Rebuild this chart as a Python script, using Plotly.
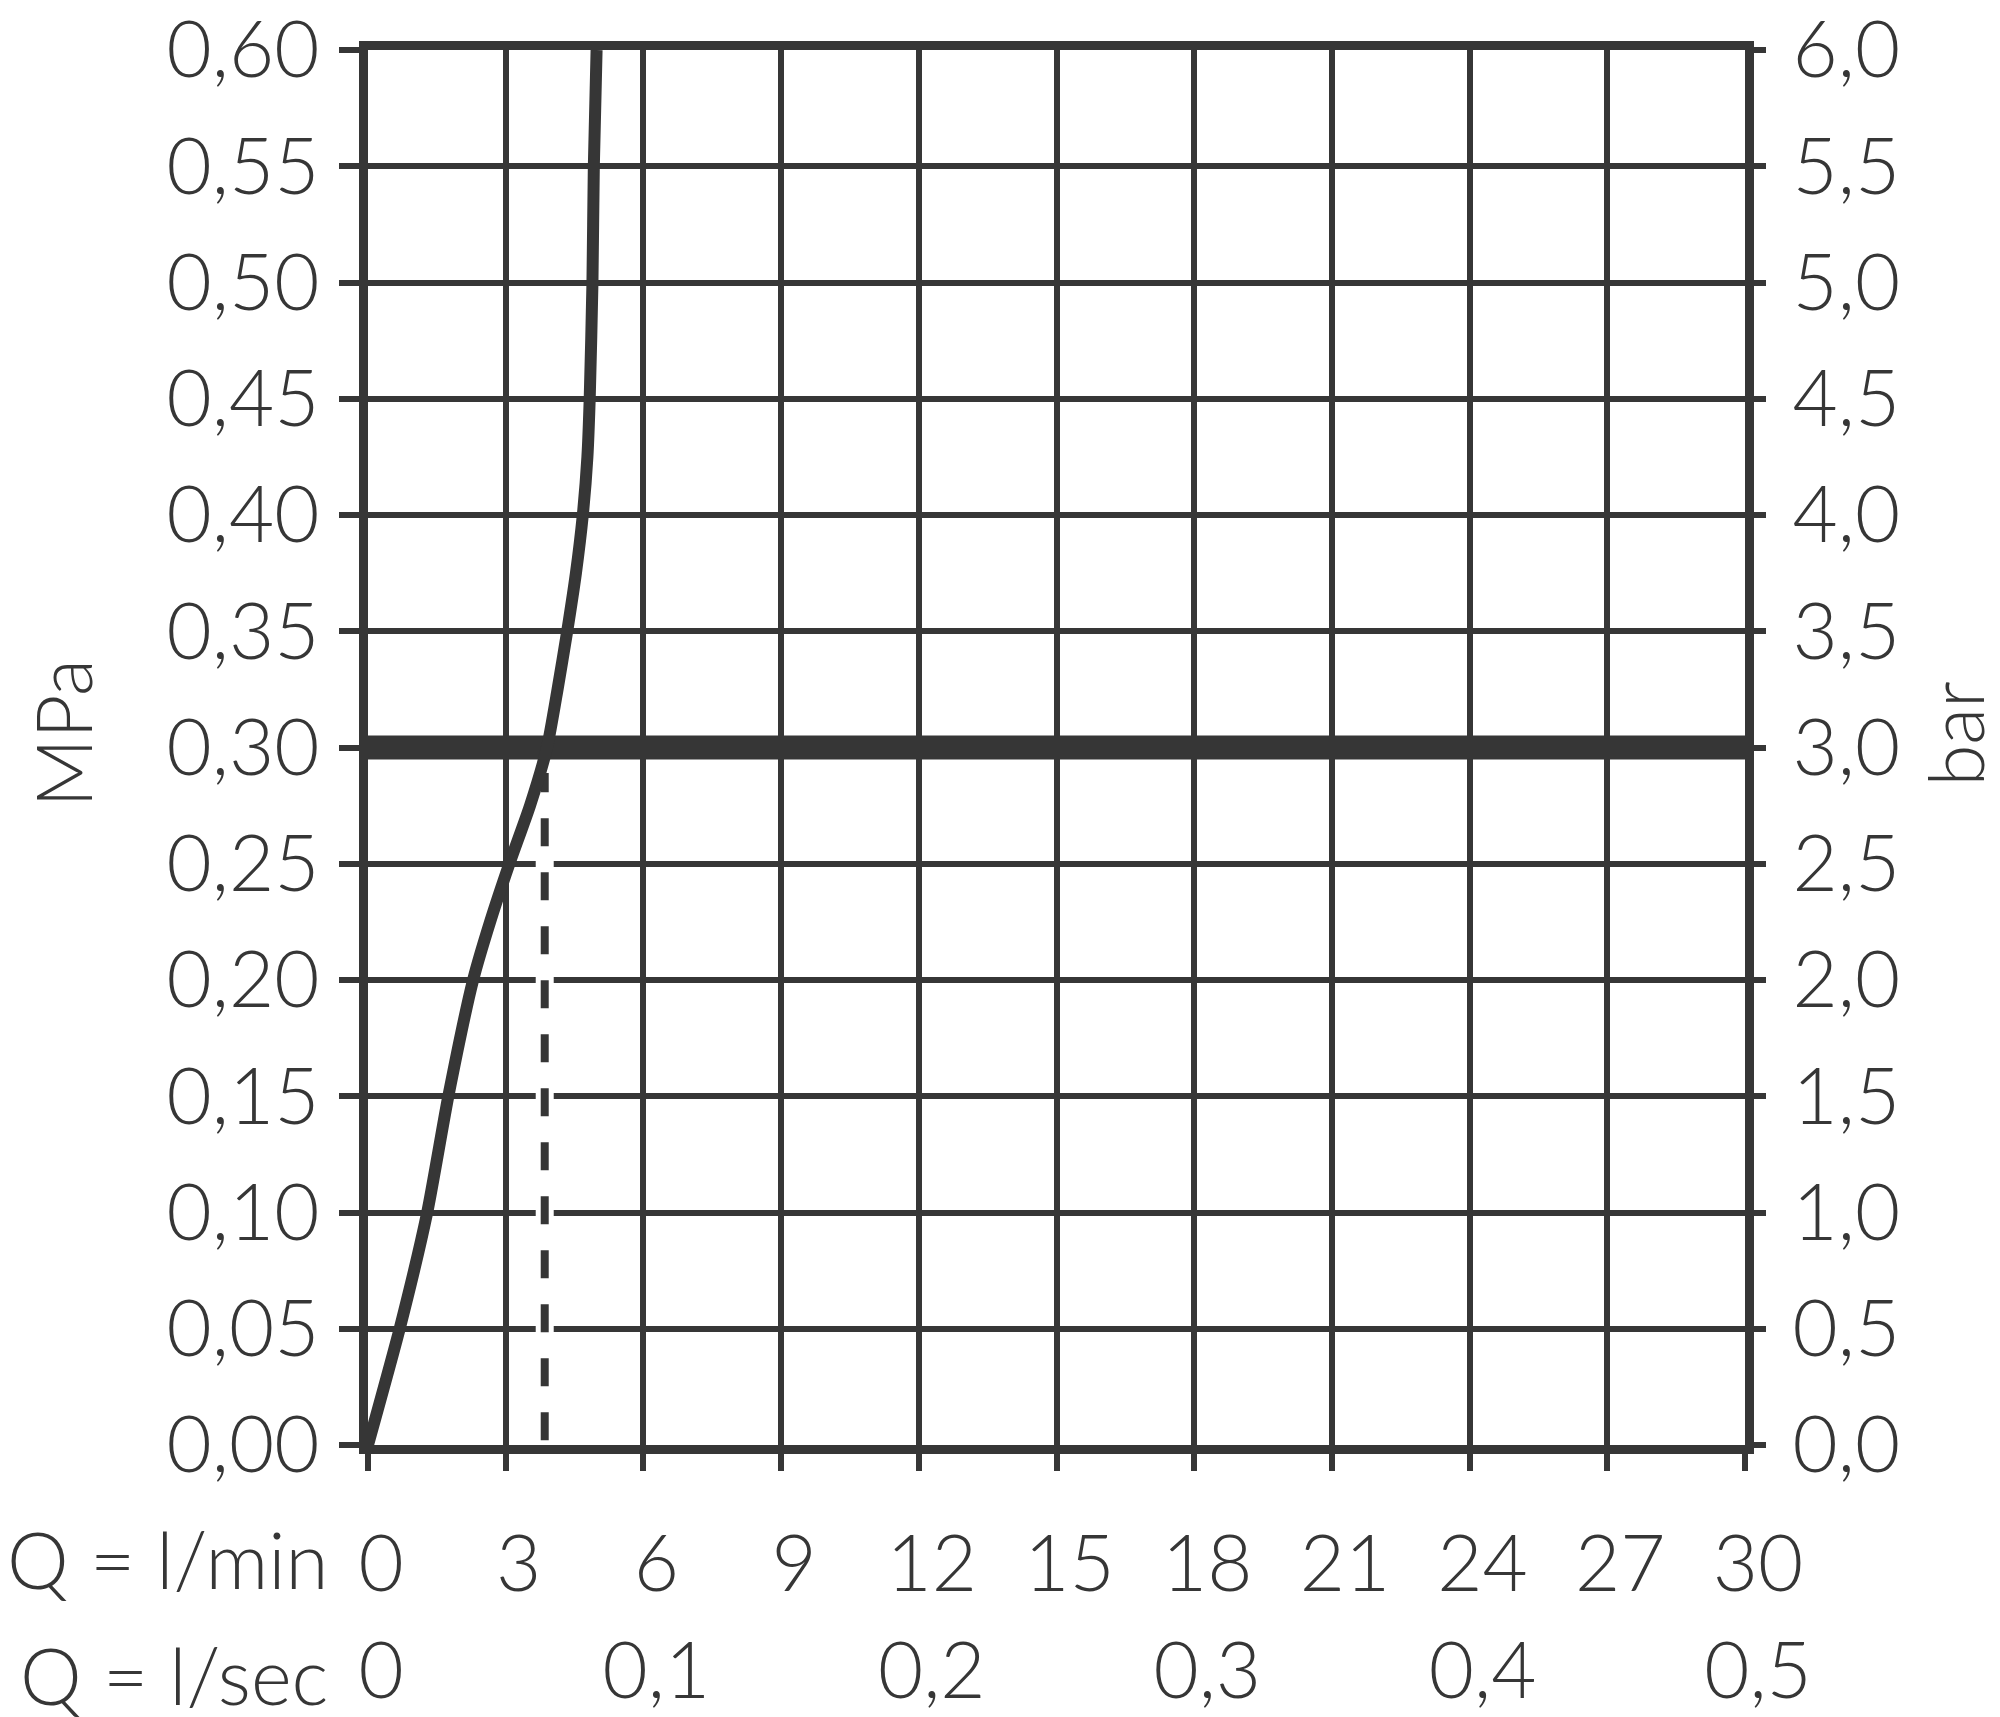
import plotly.graph_objects as go

# ---- data ----
flow_lmin = [0, 0.69, 1.29, 1.75, 2.29, 2.66, 3.08, 3.53, 3.90, 4.13, 4.34, 4.53, 4.68, 4.78, 4.83, 4.89, 4.92, 4.98]
pressure_mpa = [0, 0.05, 0.10, 0.15, 0.20, 0.225, 0.25, 0.275, 0.30, 0.325, 0.35, 0.375, 0.40, 0.425, 0.45, 0.50, 0.55, 0.60]

rated_pressure_mpa = 0.30
rated_flow_lmin = 3.85

lmin_ticks = [0, 3, 6, 9, 12, 15, 18, 21, 24, 27, 30]
lmin_labels = ["0", "3", "6", "9", "12", "15", "18", "21", "24", "27", "30"]
lsec_ticks = [0, 0.1, 0.2, 0.3, 0.4, 0.5]
lsec_labels = ["0", "0,1", "0,2", "0,3", "0,4", "0,5"]
mpa_ticks = [0, 0.05, 0.10, 0.15, 0.20, 0.25, 0.30, 0.35, 0.40, 0.45, 0.50, 0.55, 0.60]
mpa_labels = ["0,00", "0,05", "0,10", "0,15", "0,20", "0,25", "0,30", "0,35", "0,40", "0,45", "0,50", "0,55", "0,60"]
bar_ticks = [0, 0.5, 1.0, 1.5, 2.0, 2.5, 3.0, 3.5, 4.0, 4.5, 5.0, 5.5, 6.0]
bar_labels = ["0,0", "0,5", "1,0", "1,5", "2,0", "2,5", "3,0", "3,5", "4,0", "4,5", "5,0", "5,5", "6,0"]

C = "#363636"
FONT = dict(family="Lato, 'Open Sans', sans-serif", size=78, color=C, weight=300)

fig = go.Figure()

# rated pressure line
fig.add_trace(go.Scatter(x=[lmin_ticks[0], lmin_ticks[-1]], y=[rated_pressure_mpa, rated_pressure_mpa],
                         mode="lines", line=dict(color=C, width=24), hoverinfo="skip", showlegend=False))
# white halo for dashed line
fig.add_trace(go.Scatter(x=[rated_flow_lmin, rated_flow_lmin], y=[0, rated_pressure_mpa - 0.009],
                         mode="lines", line=dict(color="white", width=18), hoverinfo="skip", showlegend=False))
fig.add_trace(go.Scatter(x=[rated_flow_lmin, rated_flow_lmin], y=[0.002, rated_pressure_mpa - 0.011],
                         mode="lines", line=dict(color=C, width=8, dash="28px,26px"), hoverinfo="skip", showlegend=False))
# flow curve
fig.add_trace(go.Scatter(x=flow_lmin, y=pressure_mpa, mode="lines",
                         line=dict(color=C, width=12, shape="spline", smoothing=0.6),
                         hoverinfo="skip", showlegend=False, cliponaxis=False))
# helper traces so secondary axes render
fig.add_trace(go.Scatter(x=[lsec_ticks[0]], y=[0], xaxis="x2", yaxis="y", mode="markers",
                         marker=dict(opacity=0), hoverinfo="skip", showlegend=False))
fig.add_trace(go.Scatter(x=[0], y=[bar_ticks[0]], xaxis="x", yaxis="y2", mode="markers",
                         marker=dict(opacity=0), hoverinfo="skip", showlegend=False))

common_line = dict(showline=True, linewidth=9, linecolor=C, mirror=True, zeroline=False)

fig.update_layout(
    width=2000, height=1717,
    margin=dict(l=360, r=263, t=42, b=280, autoexpand=False),
    paper_bgcolor="white", plot_bgcolor="white",
    font=FONT,
    xaxis=dict(range=[0, 30], tickmode="array", tickvals=lmin_ticks, ticktext=lmin_labels,
               ticks="outside", ticklen=17, tickwidth=6, tickcolor=C, automargin=False,
               showgrid=True, gridcolor=C, gridwidth=6, tickfont=FONT,
               ticklabelshift=13, ticklabelstandoff=26, ticklabeloverflow="allow", **common_line),
    xaxis2=dict(range=[0, 0.5], overlaying="x", side="bottom", anchor="y", tickmode="array",
                tickvals=lsec_ticks, ticktext=lsec_labels, ticks="", showgrid=False, showline=False,
                zeroline=False, tickfont=FONT, ticklabelshift=13, ticklabelstandoff=174,
                ticklabeloverflow="allow", automargin=False),
    yaxis=dict(range=[0, 0.6], tickmode="array", tickvals=mpa_ticks, ticktext=mpa_labels,
               ticks="outside", ticklen=20, tickwidth=6, tickcolor=C, automargin=False,
               showgrid=True, gridcolor=C, gridwidth=6, tickfont=FONT,
               ticklabelstandoff=4, ticklabeloverflow="allow", **common_line),
    yaxis2=dict(range=[0, 6], overlaying="y", side="right", anchor="x", tickmode="array",
                tickvals=bar_ticks, ticktext=bar_labels, ticks="outside", ticklen=20, tickwidth=6,
                tickcolor=C, showgrid=False, showline=False, zeroline=False, tickfont=FONT,
                ticklabelstandoff=11, ticklabeloverflow="allow", automargin=False),
)

ann_font = dict(FONT, size=76)
fig.add_annotation(text="MPa", xref="x", yref="y", x=0, y=0.306, xshift=-305, textangle=-90,
                   showarrow=False, font=ann_font, xanchor="center", yanchor="middle")
fig.add_annotation(text="bar", xref="x", yref="y", x=30, y=0.306, xshift=210, textangle=-90,
                   showarrow=False, font=ann_font, xanchor="center", yanchor="middle")
fig.add_annotation(text="Q = l/min", xref="x", yref="paper", x=0, y=0, xshift=-38, yshift=-114,
                   showarrow=False, font=FONT, xanchor="right", yanchor="middle")
fig.add_annotation(text="Q = l/sec", xref="x", yref="paper", x=0, y=0, xshift=-38, yshift=-230,
                   showarrow=False, font=FONT, xanchor="right", yanchor="middle")

fig.write_html("out.html")
